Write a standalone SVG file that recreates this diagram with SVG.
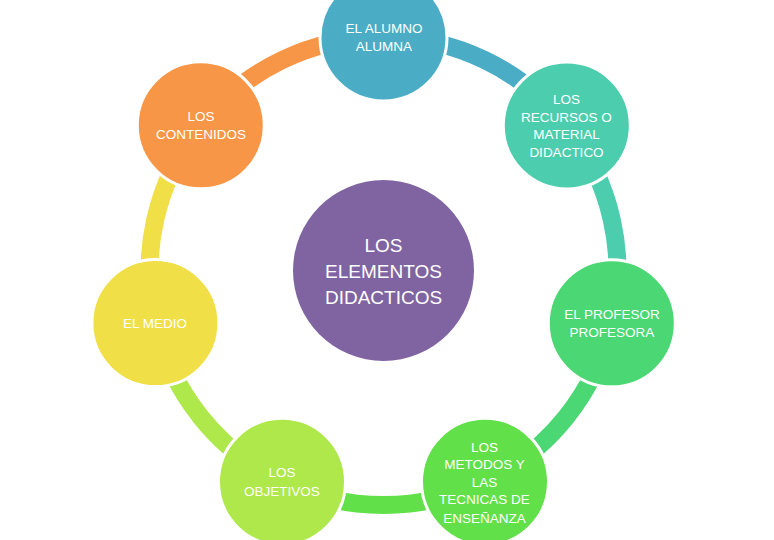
<svg xmlns="http://www.w3.org/2000/svg" width="774" height="540" viewBox="0 0 774 540">
<style>
.seg{fill:none;stroke-width:18}
.node{stroke:#fff;stroke-width:3}
.t{fill:#fff;font-family:"Liberation Sans",Arial,sans-serif;font-size:13.5px;text-anchor:middle}
.tc{fill:#fff;font-family:"Liberation Sans",Arial,sans-serif;font-size:19px;text-anchor:middle}
</style>
<rect width="774" height="540" fill="#fff"/>
<g id="connectors">
<path class="seg" stroke="#4BACC6" d="M383.5,37 A234,234 0 0 1 566.4,125.1"/>
<path class="seg" stroke="#4BCDAE" d="M566.4,125.1 A234,234 0 0 1 611.6,323.1"/>
<path class="seg" stroke="#4AD774" d="M611.6,323.1 A234,234 0 0 1 485,481.8"/>
<path class="seg" stroke="#62E04A" d="M485,481.8 A234,234 0 0 1 282,481.8"/>
<path class="seg" stroke="#AEE84A" d="M282,481.8 A234,234 0 0 1 155.4,323.1"/>
<path class="seg" stroke="#F0DF46" d="M155.4,323.1 A234,234 0 0 1 200.6,125.1"/>
<path class="seg" stroke="#F79646" d="M200.6,125.1 A234,234 0 0 1 383.5,37"/>
</g>
<g id="center">
<circle cx="383.5" cy="270.5" r="90.5" fill="#8064A2"/>
<text class="tc" x="383.5" y="252">LOS</text>
<text class="tc" x="383.5" y="278">ELEMENTOS</text>
<text class="tc" x="383.5" y="303.5">DIDACTICOS</text>
</g>
<g id="alumno">
<circle class="node" cx="383.5" cy="37.5" r="63.5" fill="#4BACC6"/>
<text class="t" x="384" y="33">EL ALUMNO</text>
<text class="t" x="384" y="51">ALUMNA</text>
</g>
<g id="recursos">
<circle class="node" cx="566.8" cy="125.5" r="63.5" fill="#4BCDAE"/>
<text class="t" x="566.5" y="104">LOS</text>
<text class="t" x="566.5" y="121.7">RECURSOS O</text>
<text class="t" x="566.5" y="139.2">MATERIAL</text>
<text class="t" x="566.5" y="156.8">DIDACTICO</text>
</g>
<g id="profesor">
<circle class="node" cx="611.8" cy="323.3" r="63.5" fill="#4AD774"/>
<text class="t" x="612" y="319">EL PROFESOR</text>
<text class="t" x="612" y="337">PROFESORA</text>
</g>
<g id="metodos">
<circle class="node" cx="485" cy="481.8" r="63.5" fill="#62E04A"/>
<text class="t" x="484.5" y="451.7">LOS</text>
<text class="t" x="484.5" y="469.3">METODOS Y</text>
<text class="t" x="484.5" y="486.8">LAS</text>
<text class="t" x="484.5" y="504.4">TECNICAS DE</text>
<text class="t" x="484.5" y="522.7">ENSEÑANZA</text>
</g>
<g id="objetivos">
<circle class="node" cx="282" cy="481.8" r="63.5" fill="#AEE84A"/>
<text class="t" x="282" y="476.7">LOS</text>
<text class="t" x="282" y="495.7">OBJETIVOS</text>
</g>
<g id="medio">
<circle class="node" cx="155.4" cy="323.1" r="63.5" fill="#F0DF46"/>
<text class="t" x="155" y="327.7">EL MEDIO</text>
</g>
<g id="contenidos">
<circle class="node" cx="200.8" cy="125.3" r="63.5" fill="#F79646"/>
<text class="t" x="201" y="121">LOS</text>
<text class="t" x="201" y="138.7">CONTENIDOS</text>
</g>
</svg>
